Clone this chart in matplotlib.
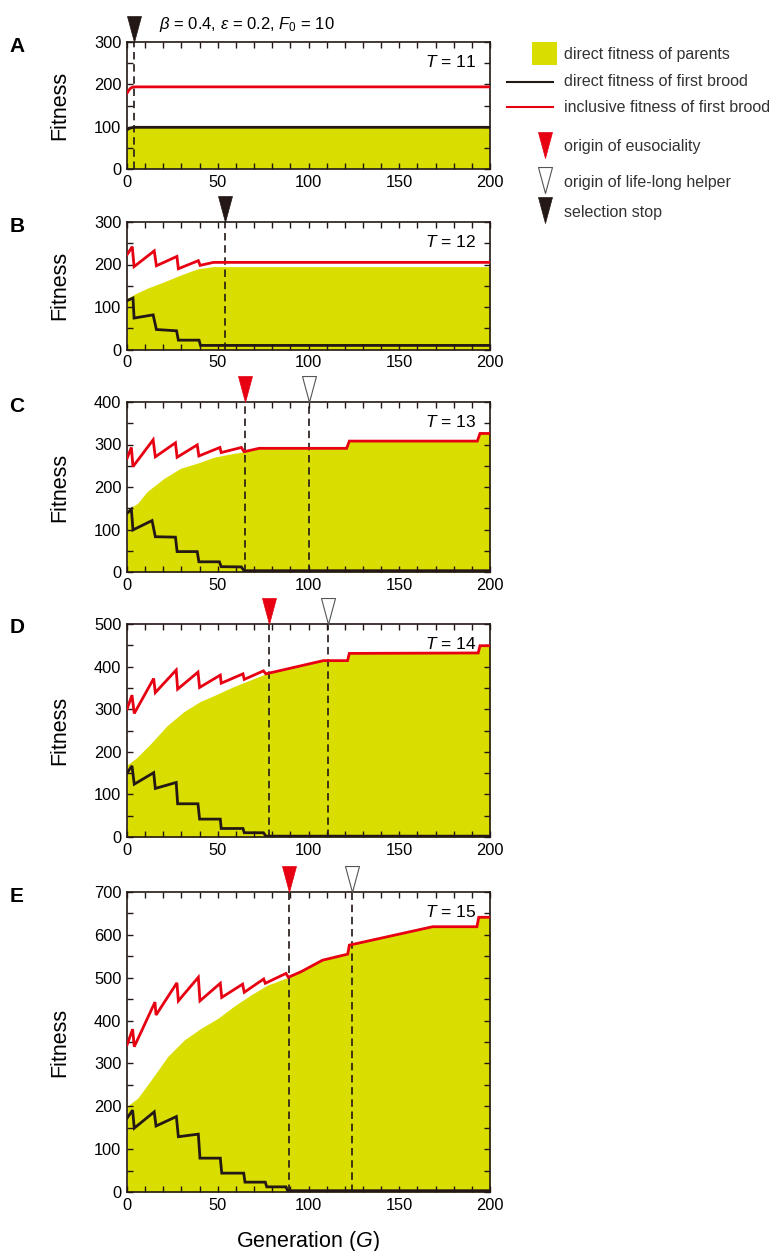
import matplotlib
matplotlib.use("Agg")
import matplotlib.pyplot as plt
from matplotlib.path import Path
from matplotlib.patches import Rectangle

plt.rcParams['font.family'] = ['Liberation Sans', 'DejaVu Sans']
plt.rcParams['mathtext.fontset'] = 'custom'
plt.rcParams['mathtext.rm'] = 'Liberation Sans'
plt.rcParams['mathtext.it'] = 'Liberation Sans:italic'
plt.rcParams['mathtext.bf'] = 'Liberation Sans:bold'

YELLOW = '#dade00'
RED = '#e60012'
BLACK = '#231815'

# ---- panel A (T = 11)
A_par_x = [0, 200]
A_par_y = [98, 98]
A_blk_x = [0, 2, 4, 200]
A_blk_y = [93, 97, 98.5, 98.5]
A_red_x = [0, 1, 2, 3, 4, 200]
A_red_y = [179, 186, 191, 193, 194, 194]
A_stop = 4

# ---- panel B (T = 12)
B_par_x = [0, 5, 11.6, 20.9, 28.3, 35, 39.3, 47.6, 200]
B_par_y = [120, 132, 145, 160, 173, 184, 190, 195, 195]
B_blk_x = [0, 3.3, 3.9, 14.4, 16.2, 27.3, 28.3, 39.7, 40.5, 200]
B_blk_y = [115, 121, 74, 81.5, 47, 44, 22, 22, 9.6, 9.6]
B_red_x = [0, 2.9, 3.9, 15, 16.2, 27.5, 28.3, 39.3, 40.3, 47.6, 200]
B_red_y = [223, 242, 195, 232, 197, 219, 190, 209, 198, 205, 205]
B_stop = 54

# ---- panel C (T = 13)
C_par_x = [0, 5.9, 11, 20.3, 29.5, 38.7, 47.9, 56, 64.5, 72.8, 121, 122.5, 193, 194.5, 200]
C_par_y = [146, 162, 189, 220, 244, 256, 270, 277, 283, 291, 291, 308, 308, 326, 326]
C_blk_x = [0, 2.4, 3.3, 13.8, 15.6, 26.7, 27.6, 38.7, 39.6, 50.9, 51.9, 63, 64.5, 200]
C_blk_y = [138, 147.5, 99, 121, 83, 82, 48, 48, 24, 24, 12.5, 12, 3, 3]
C_red_x = [0, 2.4, 3.3, 14.4, 15.6, 26.7, 27.6, 38.7, 39.6, 51.2, 51.9, 63, 64.5, 72.8,
           121, 122.5, 193, 194.5, 200]
C_red_y = [267, 293, 248, 311, 271, 304, 270, 299, 273, 293, 281, 293, 283, 291,
           291, 308, 308, 326, 326]
C_euso = 65
C_helper = 100

# ---- panel D (T = 14)
D_par_x = [0, 5, 12.8, 22, 31.2, 40.3, 49.5, 58.7, 67.9, 76.5, 108.2, 121.5, 122.5,
           193.5, 194.5, 200]
D_par_y = [169, 185, 218, 261, 294, 318, 335, 353, 368.5, 383, 414, 414, 431,
           432, 449, 449]
D_blk_x = [0, 2.75, 4, 14.7, 15.6, 27.1, 27.9, 39.1, 40, 51.4, 51.9, 63.9, 64.6,
           75.2, 76.5, 200]
D_blk_y = [150, 167, 124, 151, 114, 128, 78, 78, 42, 42, 20, 20, 10, 10, 2, 2]
D_red_x = [0, 2.75, 4, 14.7, 15.6, 27.1, 27.9, 39.1, 40, 51.4, 51.9, 63.9, 64.6, 75.2,
           76.5, 108.2, 121.5, 122.5, 193.5, 194.5, 200]
D_red_y = [300, 333, 290, 372, 339, 392, 347, 387, 351, 380, 361, 383, 370, 390,
           383, 414, 414, 431, 432, 449, 449]
D_euso = 78
D_helper = 111

# ---- panel E (T = 15)
E_par_x = [0, 5.9, 13.2, 22.4, 31.6, 40.8, 50, 59.1, 68.3, 77.5, 88.9, 95.9, 107.8,
           121.6, 122.5, 168.4, 192.8, 193.8, 200]
E_par_y = [200, 219, 261, 316, 355, 382, 405, 434, 460, 483, 501, 514, 541,
           555, 576, 619, 619, 641, 641]
E_blk_x = [0, 3.1, 4, 15, 16, 27.2, 28.3, 39.3, 40.2, 51.4, 52.2, 64.3, 65, 76.2, 77,
           87.6, 88.5, 200]
E_blk_y = [172, 191, 149, 187, 154, 176, 129, 135, 79, 79, 44, 44, 23, 23, 12,
           12, 3, 3]
E_red_x = [0, 3.1, 4, 15.4, 16, 27.5, 28.3, 39.3, 40.2, 51.4, 52.2, 63.7, 64.6, 75.3,
           76.2, 87.6, 88.9, 95.9, 107.8, 121.6, 122.5, 168.4, 192.8, 193.8, 200]
E_red_y = [343, 380, 339, 443, 413, 488, 446, 501, 446, 487, 454, 485, 466, 497,
           487, 510, 501, 514, 541, 555, 576, 619, 619, 641, 641]
E_euso = 89
E_helper = 124

tri = Path([(0, 0), (-7, 26), (7, 26), (0, 0)],
           [Path.MOVETO, Path.LINETO, Path.LINETO, Path.CLOSEPOLY])
TRI_MS = 37.4

tri_style = {
    'euso': dict(markerfacecolor=RED, markeredgecolor=RED, markeredgewidth=0.5),
    'helper': dict(markerfacecolor='white', markeredgecolor='#555555', markeredgewidth=0.8),
    'stop': dict(markerfacecolor=BLACK, markeredgecolor=BLACK, markeredgewidth=0.5),
}

fig = plt.figure(figsize=(7.71, 12.51), dpi=100)

# axes boxes in pixels: top, bottom
W, H = 771, 1251
left_px, right_px = 127, 490
boxes = [(42, 169), (222, 349.5), (402, 572), (624, 837), (892, 1192)]

panels = [
    ('A', A_par_x, A_par_y, A_blk_x, A_blk_y, A_red_x, A_red_y, 300, 11, [('stop', A_stop)]),
    ('B', B_par_x, B_par_y, B_blk_x, B_blk_y, B_red_x, B_red_y, 300, 12, [('stop', B_stop)]),
    ('C', C_par_x, C_par_y, C_blk_x, C_blk_y, C_red_x, C_red_y, 400, 13,
     [('euso', C_euso), ('helper', C_helper)]),
    ('D', D_par_x, D_par_y, D_blk_x, D_blk_y, D_red_x, D_red_y, 500, 14,
     [('euso', D_euso), ('helper', D_helper)]),
    ('E', E_par_x, E_par_y, E_blk_x, E_blk_y, E_red_x, E_red_y, 700, 15,
     [('euso', E_euso), ('helper', E_helper)]),
]

for (top, bot), (letter, px, py, bx, by, rx, ry, ymax, T, events) in zip(boxes, panels):
    ax = fig.add_axes([left_px / W, 1 - bot / H, (right_px - left_px) / W, (bot - top) / H])
    ax.fill_between(px, 0, py, color=YELLOW, lw=0, zorder=1)
    for kind, g in events:
        ax.axvline(g, color=BLACK, lw=1.2, ls=(0, (4.5, 2.8)), zorder=2)
        ax.plot([g], [ymax], marker=tri, markersize=TRI_MS, linestyle='none',
                clip_on=False, zorder=6, **tri_style[kind])
    ax.plot(bx, by, color=BLACK, lw=2.0, zorder=3, solid_joinstyle='miter')
    ax.plot(rx, ry, color=RED, lw=2.0, zorder=4, solid_joinstyle='miter')
    ax.set_xlim(0, 200)
    ax.set_ylim(0, ymax)
    ax.set_xticks(range(0, 201, 50))
    ax.set_xticks(range(0, 201, 10), minor=True)
    ax.set_yticks(range(0, ymax + 1, 100))
    ax.set_yticks(range(0, ymax + 1, 50), minor=True)
    ax.tick_params(which='both', direction='in', top=True, right=True,
                   length=4.5, width=1.0, color=BLACK, labelsize=11.8, pad=4)
    for s in ax.spines.values():
        s.set_linewidth(1.2)
        s.set_color(BLACK)
    ax.set_ylabel('Fitness', fontsize=15.5)
    ax.yaxis.set_label_coords(-0.155, 0.5)
    ax.annotate(r'$T$ = %d' % T, xy=(1, 1), xycoords='axes fraction',
                xytext=(-10, -14.5), textcoords='offset points',
                ha='right', va='center', fontsize=12.5)
    fig.text(17 / W, 1 - (top + 4) / H, letter, fontsize=15, fontweight='bold',
             ha='center', va='center')

fig.text(247 / W, 1 - 25 / H, r'$\beta$ = 0.4, $\varepsilon$ = 0.2, $F_0$ = 10',
         fontsize=12, ha='center', va='center')
fig.text(308 / W, 1 - 1241 / H, r'Generation ($G$)', fontsize=15.5,
         ha='center', va='center')

# legend drawn in pixel space
lg = fig.add_axes([0, 0, 1, 1], zorder=10)
lg.set_xlim(0, W)
lg.set_ylim(H, 0)
lg.axis('off')
lg.patch.set_alpha(0)
lg.add_patch(Rectangle((532, 42), 25, 23, color=YELLOW, lw=0))
lg.plot([507, 553], [82, 82], color=BLACK, lw=1.5)
lg.plot([507, 553], [107, 107], color=RED, lw=1.5)
for kind, yb in [('euso', 158), ('helper', 193), ('stop', 223)]:
    lg.plot([545], [yb], marker=tri, markersize=TRI_MS, linestyle='none', **tri_style[kind])
leg_text = [(55, 'direct fitness of parents'), (82, 'direct fitness of first brood'),
            (107, 'inclusive fitness of first brood'), (147, 'origin of eusociality'),
            (182, 'origin of life-long helper'), (212, 'selection stop')]
for yy, t in leg_text:
    lg.text(564, yy, t, fontsize=11.5, ha='left', va='center', color='#333333')

fig.savefig('out.png', dpi=100)
